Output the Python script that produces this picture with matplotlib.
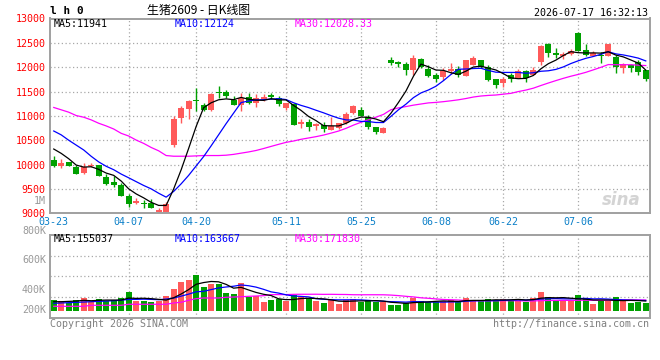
import matplotlib
matplotlib.use("Agg")
import numpy as np
import pandas as pd
import matplotlib.pyplot as plt

# ---------------- data ----------------
opens = [10100, 9970, 10050, 9950, 9820, 9970, 9985, 9745, 9650, 9585,
         9360, 9215, 9215, 9220, 9040, 9030, 10395, 10950, 11140, 11320,
         11220, 11125, 11500, 11500, 11320, 11230, 11390, 11265, 11360, 11420,
         11360, 11160, 11240, 10850, 10880, 10800, 10820, 10710, 10745, 10860,
         11055, 11125, 10970, 10780, 10655, 12155, 12105, 12070, 11950, 12170,
         11965, 11830, 11795, 11935, 11965, 11815, 12055, 12150, 12000, 11760,
         11675, 11830, 11780, 11915, 11850, 12105, 12475, 12295, 12245, 12265,
         12705, 12350, 12235, 12260, 12225, 12210, 11985, 12050, 12105, 11935]
highs = [10170, 10110, 10060, 10000, 10035, 10040, 10000, 9815, 9760, 9630,
         9395, 9310, 9280, 9300, 9105, 9240, 11000, 11195, 11330, 11570,
         11260, 11470, 11610, 11540, 11400, 11460, 11470, 11440, 11450, 11470,
         11400, 11260, 11260, 10940, 10940, 10860, 10880, 10970, 10860, 11070,
         11215, 11175, 11015, 10780, 10780, 12210, 12120, 12100, 12255, 12190,
         12035, 11875, 11975, 12090, 12015, 12140, 12225, 12155, 12055, 11760,
         11795, 11880, 11960, 11935, 12000, 12450, 12490, 12395, 12320, 12380,
         12725, 12470, 12340, 12315, 12470, 12260, 12085, 12070, 12140, 11950]
lows = [9945, 9940, 9975, 9800, 9810, 9950, 9760, 9590, 9550, 9365,
        9120, 9200, 9110, 9115, 9000, 9030, 10365, 10850, 10930, 11100,
        11100, 11100, 11370, 11370, 11220, 11100, 11250, 11190, 11310, 11340,
        11210, 11120, 10815, 10750, 10700, 10710, 10670, 10710, 10730, 10830,
        11040, 10990, 10740, 10620, 10655, 12055, 12000, 11845, 11845, 11985,
        11795, 11690, 11740, 11860, 11795, 11815, 12055, 11985, 11725, 11570,
        11590, 11690, 11780, 11700, 11840, 12055, 12210, 12185, 12170, 12260,
        12335, 12220, 12220, 12085, 12225, 11880, 11880, 11895, 11850, 11725]
closes = [9965, 10040, 9980, 9810, 9950, 10000, 9770, 9600, 9575, 9365,
          9200, 9250, 9195, 9115, 9050, 9195, 10945, 11160, 11310, 11300,
          11125, 11450, 11470, 11400, 11220, 11360, 11265, 11375, 11375, 11390,
          11240, 11260, 10815, 10860, 10770, 10810, 10740, 10800, 10850, 11035,
          11205, 10990, 10775, 10670, 10760, 12085, 12090, 11950, 12190, 12000,
          11810, 11760, 11915, 11945, 11830, 12140, 12190, 12000, 11745, 11640,
          11760, 11760, 11915, 11780, 11935, 12440, 12290, 12280, 12255, 12330,
          12335, 12260, 12290, 12230, 12470, 11995, 12075, 11975, 11905, 11755]
volumes_k = [172, 156, 130, 172, 203, 140, 187, 151, 172, 203,
             296, 161, 161, 140, 151, 239, 343, 452, 484, 566,
             374, 426, 426, 285, 270, 437, 223, 234, 140, 172,
             183, 156, 245, 214, 198, 161, 125, 172, 114, 176,
             187, 140, 172, 136, 136, 98, 98, 125, 198, 156,
             136, 140, 156, 172, 140, 203, 156, 156, 187, 172,
             187, 172, 187, 140, 203, 296, 218, 172, 156, 156,
             250, 187, 109, 156, 156, 218, 172, 125, 140, 125]

# moving-average values before enough in-window history exists
ma5_head = [10320, 10230, 10120, 9990]
ma10_head = [10690, 10610, 10500, 10400, 10300, 10170, 10055, 9965, 9895]
ma30_head = [11173, 11125, 11076, 11007, 10973, 10918, 10849, 10794, 10731, 10642,
             10587, 10504, 10435, 10352, 10283, 10186, 10172, 10172, 10172, 10179,
             10186, 10186, 10186, 10193, 10210, 10235, 10260, 10290, 10330]
vma5_head = [145, 145, 150, 155]
vma10_head = [120, 125, 130, 135, 140, 145, 150, 155, 160]
vma30_head = [73, 73, 73, 73, 73, 89, 89, 89, 89, 89,
              105, 105, 105, 105, 105, 105, 125, 136, 167, 192,
              203, 203, 203, 214, 218, 223, 229, 234, 239]

tick_idx = [0, 10, 19, 31, 41, 51, 60, 70]
tick_labels = ["03-23", "04-07", "04-20", "05-11", "05-25", "06-08", "06-22", "07-06"]
price_ticks = [9000, 9500, 10000, 10500, 11000, 11500, 12000, 12500, 13000]

# ---------------- style ----------------
UP = "#ff5a5a"
DOWN = "#00a000"
GRID = "#a8a8a8"
FRAME = "#a0a0a0"
MONO = "DejaVu Sans Mono"
plt.rcParams["font.family"] = ["DejaVu Sans Mono", "Noto Sans CJK SC"]

W, H = 660, 360


def rect(l, t, r, b):
    return [l / W, 1 - b / H, (r - l) / W, (b - t) / H]


def fx(x):
    return x / W


def fy(y):
    return 1 - y / H


o = np.array(opens, float)
h = np.array(highs, float)
l = np.array(lows, float)
c = np.array(closes, float)
v = np.array(volumes_k, float) * 1000
n = len(c)
x = np.arange(n)
cols = [UP if cc >= oo else DOWN for oo, cc in zip(o, c)]


def ma(series, k, head):
    m = pd.Series(series).rolling(k).mean().to_numpy()
    m[:len(head)] = head
    return m


ma5 = ma(c, 5, ma5_head)
ma10 = ma(c, 10, ma10_head)
ma30 = ma(c, 30, ma30_head)
vma5 = ma(v, 5, np.array(vma5_head) * 1000)
vma10 = ma(v, 10, np.array(vma10_head) * 1000)
vma30 = ma(v, 30, np.array(vma30_head) * 1000)

fig = plt.figure(figsize=(6.6, 3.6), dpi=100)
fig.patch.set_facecolor("white")

ax = fig.add_axes(rect(50, 18.5, 649.5, 213.3))
axv = fig.add_axes(rect(50, 234.7, 649.5, 318))

for a in (ax, axv):
    for s in a.spines.values():
        s.set_color(FRAME)
        s.set_linewidth(1.4)
    a.set_xlim(-0.5, n - 0.5)
    a.tick_params(length=0)
    for ti in tick_idx[1:]:
        a.axvline(ti, color=GRID, lw=0.9, ls=(0, (1, 2)), zorder=0)

# ---- price panel ----
for p in price_ticks[1:-1]:
    ax.axhline(p, color=GRID, lw=0.9, ls=(0, (1, 2)), zorder=0)
ax.vlines(x, l, h, colors=cols, lw=1.0, zorder=2)
ax.bar(x, np.abs(c - o), bottom=np.minimum(o, c), width=0.8, color=cols,
       lw=0, zorder=3)
doji = np.abs(c - o) < 20
ax.hlines(c[doji], x[doji] - 0.4, x[doji] + 0.4,
          colors=[cc for cc, d in zip(cols, doji) if d], lw=1.4, zorder=3)
ax.plot(x, ma30, color="#ff00ff", lw=0.9, zorder=4)
ax.plot(x, ma10, color="#0000ff", lw=0.9, zorder=4)
ax.plot(x, ma5, color="black", lw=0.9, zorder=5)
ax.set_ylim(9000, 13000)
ax.set_yticks(price_ticks)
ax.set_yticklabels([str(p) for p in price_ticks], color="#ff0000",
                   fontsize=7.2, family=MONO)
ax.tick_params(axis="y", pad=3)
ax.set_xticks(tick_idx)
ax.set_xticklabels(tick_labels, color="#0a7fc8", fontsize=7.2, family=MONO)
ax.tick_params(axis="x", pad=2.8)

# watermark
ax.text(0.985, 0.07, "sina", transform=ax.transAxes, ha="right", va="center",
        fontsize=12, fontstyle="italic", fontweight="bold", color="#d4d4d4",
        family="DejaVu Sans", zorder=1)

# ---- volume panel ----
for f in (0.25, 0.5, 0.75):
    axv.plot([0, 1], [f, f], transform=axv.transAxes, color=GRID, lw=0.9,
             ls=(0, (1, 2)), zorder=0)
axv.bar(x, v, width=0.8, color=cols, lw=0, zorder=2)
axv.plot(x, vma30, color="#ff00ff", lw=0.9, zorder=3)
axv.plot(x, vma10, color="#0000ff", lw=0.9, zorder=3)
axv.plot(x, vma5, color="black", lw=0.9, zorder=4)
axv.set_ylim(-109200, 1190280)
axv.set_xticks([])
axv.set_yticks([])

# ---- texts ----
fs = 7.2
fig.text(fx(46), fy(201), "1M", ha="right", va="center", color="#999999",
         fontsize=fs, family=MONO)
for lab, yy in (("800K", 230.8), ("600K", 260.3), ("400K", 290.3), ("200K", 310.3)):
    fig.text(fx(46), fy(yy), lab, ha="right", va="center", color="#999999",
             fontsize=fs, family=MONO)

fig.text(fx(50), fy(11.5), "l h 0", ha="left", va="center", color="black",
         fontsize=8, fontweight="bold", family=MONO)
fig.text(fx(199), fy(10.5), "生猪2609 - 日K线图", ha="center", va="center",
         color="black", fontsize=8.6, family=["Noto Sans CJK SC", "DejaVu Sans"])
fig.text(fx(648), fy(12.5), "2026-07-17 16:32:13", ha="right", va="center",
         color="black", fontsize=fs, family=MONO)

fig.text(fx(54), fy(24), "MA5:11941", ha="left", va="center", color="black",
         fontsize=fs, family=MONO)
fig.text(fx(175), fy(24), "MA10:12124", ha="left", va="center", color="#0000ff",
         fontsize=fs, family=MONO)
fig.text(fx(295), fy(24), "MA30:12028.33", ha="left", va="center",
         color="#ff00ff", fontsize=fs, family=MONO)

fig.text(fx(54), fy(239.5), "MA5:155037", ha="left", va="center", color="black",
         fontsize=fs, family=MONO)
fig.text(fx(175), fy(239.5), "MA10:163667", ha="left", va="center",
         color="#0000ff", fontsize=fs, family=MONO)
fig.text(fx(295), fy(239.5), "MA30:171830", ha="left", va="center",
         color="#ff00ff", fontsize=fs, family=MONO)

fig.text(fx(50), fy(324), "Copyright 2026 SINA.COM", ha="left", va="center",
         color="#808080", fontsize=fs, family=MONO)
fig.text(fx(649), fy(324), "http://finance.sina.com.cn", ha="right",
         va="center", color="#808080", fontsize=fs, family=MONO)

fig.savefig("out.png", dpi=100)
